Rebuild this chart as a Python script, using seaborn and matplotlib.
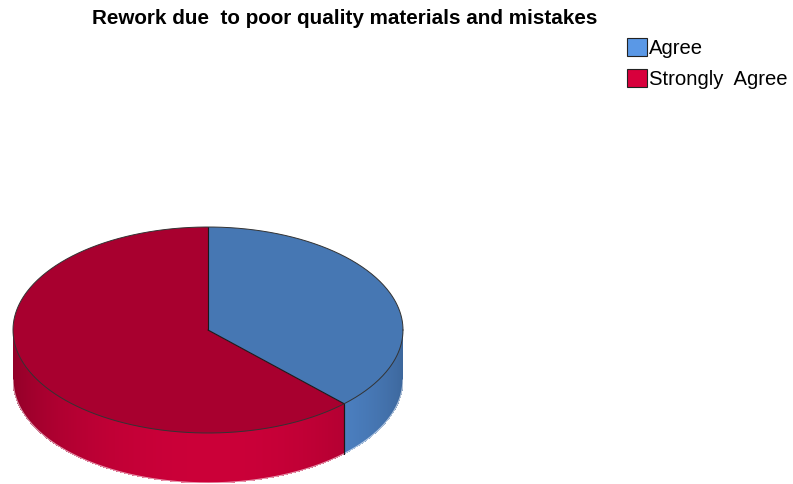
import numpy as np
import matplotlib
matplotlib.use("Agg")
import matplotlib.pyplot as plt
from matplotlib.patches import Polygon, Patch
from matplotlib.colors import to_rgb
import seaborn as sns

# Survey responses (percent of respondents)
categories = ["Agree", "Strongly  Agree"]
percentages = [37.7, 62.3]
colors = ["#5a98e6", "#d8003c"]
title = "Rework due  to poor quality materials and mistakes"

sns.set_theme(style="white")
plt.rcParams["font.family"] = ["Liberation Sans", "DejaVu Sans"]

W, H = 793, 484
fig = plt.figure(figsize=(W / 100, H / 100), dpi=100)
ax = fig.add_axes([0, 0, 1, 1])
ax.set_xlim(0, W)
ax.set_ylim(H, 0)
ax.axis("off")

# Geometry of the tilted pie (screen units, y pointing down)
cx, cy = 208, 330
rx, ry = 195, 103
depth = 50


def ellipse_pt(t, dy=0.0):
    return cx + rx * np.cos(t), cy + ry * np.sin(t) + dy


def shade(c, f):
    r, g, b = to_rgb(c)
    return (min(r * f, 1), min(g * f, 1), min(b * f, 1))


# Slice angle ranges: start at 12 o'clock, go clockwise on screen
fractions = np.array(percentages) / np.sum(percentages)
starts = -np.pi / 2 + 2 * np.pi * np.concatenate([[0], np.cumsum(fractions)[:-1]])
ends = starts + 2 * np.pi * fractions

# Side wall (front half only), drawn as thin shaded strips
n_strips = 400
for s, e, c in zip(starts, ends, colors):
    lo, hi = max(s, 0.0), min(e, np.pi)
    if hi <= lo:
        lo, hi = max(s - 2 * np.pi, 0.0), min(e - 2 * np.pi, np.pi)
        if hi <= lo:
            continue
    k = max(2, int(n_strips * (hi - lo) / np.pi))
    ts = np.linspace(lo, hi, k + 1)
    step = ts[1] - ts[0]
    for a, b in zip(ts[:-1], ts[1:]):
        m = 0.5 * (a + b)
        f = 0.67 + 0.27 * np.sin(m) ** 1.5
        b2 = min(b + step * 0.8, hi)
        x0, y0 = ellipse_pt(a)
        x1, y1 = ellipse_pt(b2)
        quad = [(x0, y0 - 1), (x1, y1 - 1), (x1, y1 + depth), (x0, y0 + depth)]
        ax.add_patch(Polygon(quad, closed=True, facecolor=shade(c, f),
                             edgecolor="none", linewidth=0, antialiased=False,
                             zorder=1))
    # vertical edge where the slice boundary meets the wall
    for t in (lo, hi):
        if 0 < t < np.pi:
            x, y = ellipse_pt(t)
            ax.plot([x, x], [y, y + depth], color="#1a1a1a", lw=0.8, zorder=3)

# Smooth the lower rim of the wall
tb = np.linspace(0, np.pi, 400)
ax.plot(cx + rx * np.cos(tb), cy + ry * np.sin(tb) + depth, color="white",
        lw=1.0, alpha=0.6, zorder=1.5)

# Top face wedges
for s, e, c in zip(starts, ends, colors):
    ts = np.linspace(s, e, 300)
    pts = [(cx, cy)] + [ellipse_pt(t) for t in ts]
    ax.add_patch(Polygon(pts, closed=True, facecolor=shade(c, 0.78),
                         edgecolor="none", zorder=2))
    x, y = ellipse_pt(s)
    ax.plot([cx, x], [cy, y], color="#1a1a1a", lw=0.8, zorder=3)

# Outline of the top face
tt = np.linspace(0, 2 * np.pi, 600)
ax.plot(cx + rx * np.cos(tt), cy + ry * np.sin(tt), color="#333333", lw=0.7, zorder=3)

# Title
fig.text(92 / W, 1 - 18 / H, title, ha="left", va="center",
         fontsize=14.9, fontweight="bold", color="black")

# Legend
handles = [Patch(facecolor=c, edgecolor="#222222", linewidth=0.8) for c in colors]
leg = ax.legend(handles, categories, loc="upper left",
                bbox_to_anchor=(627 / W, 1 - 38 / H),
                bbox_transform=fig.transFigure, frameon=False, fontsize=14.6,
                handlelength=0.98, handleheight=0.98, handletextpad=0.12,
                labelspacing=0.56, borderpad=0, borderaxespad=0)
for txt in leg.get_texts():
    txt.set_color("black")

fig.savefig("out.png", dpi=100)
